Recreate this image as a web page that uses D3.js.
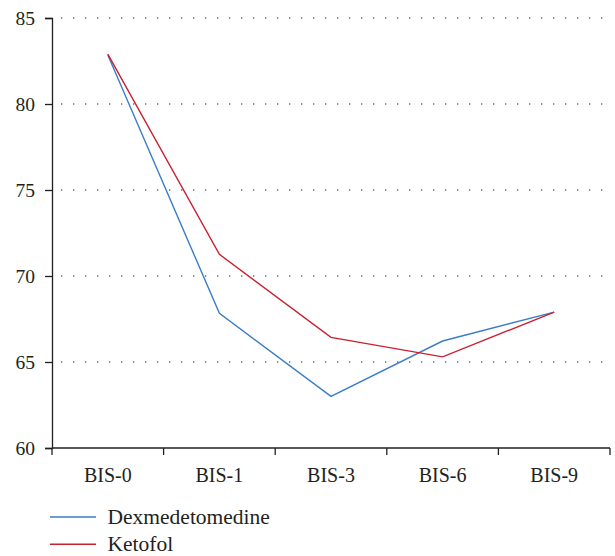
<!DOCTYPE html>
<html>
<head>
<meta charset="utf-8">
<script src="https://cdn.jsdelivr.net/npm/d3@7"></script>
<style>
  body { margin: 0; background: #fff; }
  svg text { font-family: "Liberation Serif", "Times New Roman", serif !important; }
</style>
</head>
<body>
<div id="chart"></div>
<script>
// data
var categories = ["BIS-0", "BIS-1", "BIS-3", "BIS-6", "BIS-9"];
var dexValues = [82.85, 67.83, 63.0, 66.22, 67.9];
var ketValues = [82.9, 71.26, 66.43, 65.3, 67.9];
var yTicks = [60, 65, 70, 75, 80, 85];
var seriesNames = ["Dexmedetomedine", "Ketofol"];
var seriesColors = ["#3a7dc9", "#c9202e"];

var svgWidth = 615, svgHeight = 556;
var margin = { top: 18, right: 5, bottom: 108, left: 52 };
var width = svgWidth - margin.left - margin.right;
var height = svgHeight - margin.top - margin.bottom;

var svg = d3.select("#chart").append("svg")
  .attr("width", svgWidth)
  .attr("height", svgHeight);

var chartGroup = svg.append("g")
  .attr("transform", `translate(${margin.left}, ${margin.top})`);

// scales
var xScale = d3.scaleBand().domain(categories).range([0, width]);
var yScale = d3.scaleLinear().domain([60, 85]).range([height, 0]);

// gridlines
chartGroup.selectAll(".grid")
  .data(yTicks.filter(d => d > 60))
  .enter()
  .append("line")
  .attr("x1", 0)
  .attr("x2", width)
  .attr("y1", d => yScale(d))
  .attr("y2", d => yScale(d))
  .attr("stroke", "#666")
  .attr("stroke-width", 1.3)
  .attr("stroke-dasharray", "1.3,10.7")
  .attr("stroke-dashoffset", -9);

// y axis
var yAxis = chartGroup.append("g")
  .call(d3.axisLeft(yScale).tickValues(yTicks).tickSize(7).tickPadding(10));
yAxis.selectAll("text")
  .attr("font-size", "19.5px")
  .attr("fill", "#231f20");
yAxis.selectAll("line, path").attr("stroke", "#231f20").attr("stroke-width", 1.3);

// x axis
var xTickPos = d3.range(categories.length + 1).map(i => i * xScale.bandwidth());
var xAxisG = chartGroup.append("g").attr("transform", `translate(0, ${height})`);
xAxisG.append("line")
  .attr("x1", 0).attr("x2", width)
  .attr("stroke", "#231f20").attr("stroke-width", 1.3);
xAxisG.selectAll(".xtick")
  .data(xTickPos)
  .enter()
  .append("line")
  .attr("x1", d => d).attr("x2", d => d)
  .attr("y1", 0).attr("y2", 7)
  .attr("stroke", "#231f20").attr("stroke-width", 1.3);
xAxisG.selectAll(".xlabel")
  .data(categories)
  .enter()
  .append("text")
  .attr("x", d => xScale(d) + xScale.bandwidth() / 2)
  .attr("y", 33.5)
  .attr("text-anchor", "middle")
  .attr("font-size", "20px")
  .attr("fill", "#231f20")
  .text(d => d);

// lines
var line = d3.line()
  .x((d, i) => xScale(categories[i]) + xScale.bandwidth() / 2)
  .y(d => yScale(d));

[dexValues, ketValues].forEach(function(vals, i) {
  chartGroup.append("path")
    .datum(vals)
    .attr("fill", "none")
    .attr("stroke", seriesColors[i])
    .attr("stroke-width", 1.4)
    .attr("d", line);
});

// legend
var legend = svg.append("g").attr("transform", "translate(50, 517)");
seriesNames.forEach(function(name, i) {
  var row = legend.append("g").attr("transform", `translate(0, ${i * 27.3})`);
  row.append("line")
    .attr("x1", 0).attr("x2", 46)
    .attr("stroke", seriesColors[i])
    .attr("stroke-width", 1.4);
  row.append("text")
    .attr("x", 57.5)
    .attr("y", 6.5)
    .attr("font-size", "21.5px")
    .attr("fill", "#231f20")
    .text(name);
});
</script>
</body>
</html>
